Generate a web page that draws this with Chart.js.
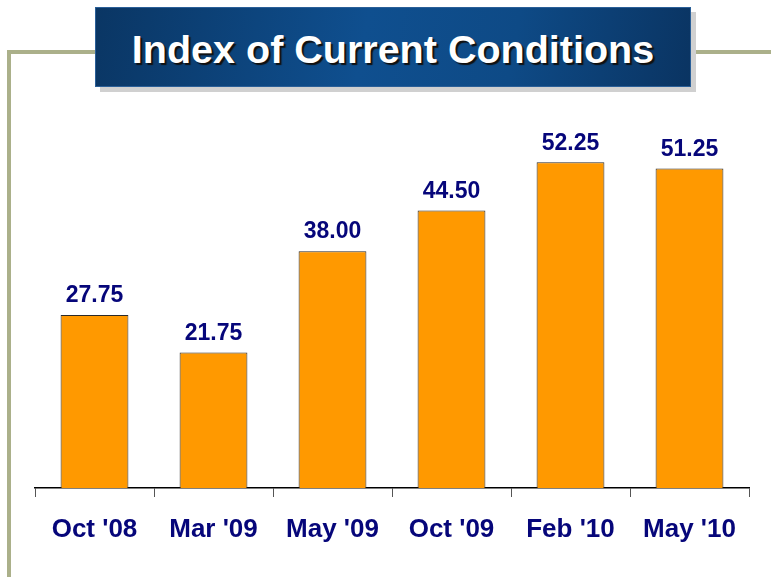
<!DOCTYPE html>
<html><head><meta charset="utf-8">
<script src="https://cdn.jsdelivr.net/npm/chart.js@4"></script>
<style>
html,body{margin:0;padding:0;background:#fff;}
#wrap{position:relative;width:771px;height:577px;overflow:hidden;background:#fff;}
#vline{position:absolute;left:7px;top:50px;width:4px;height:540px;background:#abb08a;}
#hl1{position:absolute;left:7px;top:50px;width:90px;height:4px;background:#abb08a;}
#hl2{position:absolute;left:694px;top:50px;width:80px;height:4px;background:#abb08a;}
#shadow{position:absolute;left:100px;top:12px;width:596px;height:80px;background:#d0d0d0;}
#tbox{position:absolute;left:95px;top:7px;width:596px;height:80px;
 background:linear-gradient(100deg,#0a3664 0%,#0f4f8f 45%,#0e4a86 70%,#0a3462 100%);
 border:1px solid #2a5f98;box-sizing:border-box;}
#ttext{position:absolute;left:0;right:0;top:21px;text-align:center;color:#fff;font-family:"Liberation Sans",Arial,sans-serif;font-weight:bold;font-size:39.5px;line-height:40px;
 text-shadow:2px 2px 1px #111;white-space:nowrap;}
#c{position:absolute;left:0;top:0;}
</style></head>
<body><div id="wrap">
<div id="vline"></div><div id="hl1"></div><div id="hl2"></div>
<div id="shadow"></div>
<div id="tbox"><div id="ttext">Index of Current Conditions</div></div>
<canvas id="c" width="771" height="577"></canvas>
</div>
<script>
const categories = ["Oct '08", "Mar '09", "May '09", "Oct '09", "Feb '10", "May '10"];
const values = [27.75, 21.75, 38.00, 44.50, 52.25, 51.25];

const labelPlugin = {
  id: 'valLabels',
  afterDatasetsDraw(chart) {
    const ctx = chart.ctx;
    const meta = chart.getDatasetMeta(0);
    ctx.save();
    ctx.font = 'bold 23px "Liberation Sans", Arial, sans-serif';
    ctx.fillStyle = '#06067a';
    ctx.textAlign = 'center';
    ctx.textBaseline = 'middle';
    meta.data.forEach((bar, i) => {
      ctx.fillText(values[i].toFixed(2), bar.x, bar.y - 19);
    });
    ctx.restore();
  }
};

new Chart(document.getElementById('c'), {
  type: 'bar',
  data: {
    labels: categories,
    datasets: [{
      data: values,
      backgroundColor: '#ff9900',
      borderColor: '#2a2a2a',
      borderWidth: 1,
      borderSkipped: 'bottom',
      barPercentage: 0.57,
      categoryPercentage: 1.0
    }]
  },
  options: {
    responsive: false,
    animation: false,
    layout: { padding: { left: 35, right: 22, top: 114, bottom: 0 } },
    plugins: { legend: { display: false }, tooltip: { enabled: false }, title: { display: false } },
    scales: {
      y: { display: false, min: 0, max: 60 },
      x: {
        afterFit(scale) { scale.height = 89; },
        grid: { display: true, drawOnChartArea: false, drawTicks: true, tickLength: 9, color: '#555', offset: true },
        border: { display: true, color: '#000', width: 1.5 },
        ticks: { color: '#06067a', font: { family: '"Liberation Sans", Arial, sans-serif', size: 26, weight: 'bold' }, padding: 17 }
      }
    }
  },
  plugins: [labelPlugin]
});
</script>
</body></html>
